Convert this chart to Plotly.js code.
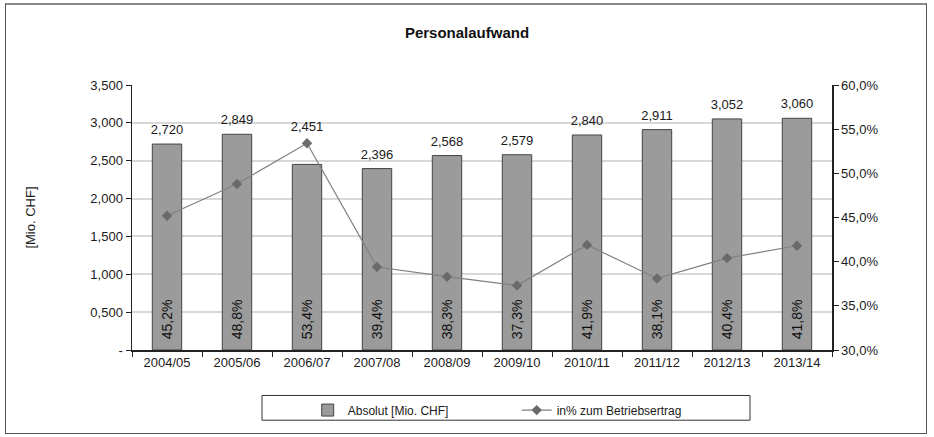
<!DOCTYPE html>
<html>
<head>
<meta charset="utf-8">
<script src="https://cdn.plot.ly/plotly-3.0.1.min.js"></script>
<style>
  html, body { margin: 0; padding: 0; background: #fff; }
  #wrap { position: relative; width: 934px; height: 437px; }
  #chart { width: 934px; height: 437px; }
  #frame { position: absolute; left: 5px; top: 3px; width: 920px; height: 428px;
           border: 1px solid #555; border-top: 2px solid #888; pointer-events: none; }
</style>
</head>
<body>
<div id="wrap">
  <div id="chart"></div>
  <div id="frame"></div>
</div>
<script>
// ---- data ----
const categories = ["2004/05","2005/06","2006/07","2007/08","2008/09","2009/10","2010/11","2011/12","2012/13","2013/14"];
const absolutValues = [2.720, 2.849, 2.451, 2.396, 2.568, 2.579, 2.840, 2.911, 3.052, 3.060];
const percentValues = [0.452, 0.488, 0.534, 0.394, 0.383, 0.373, 0.419, 0.381, 0.404, 0.418];
const leftTickVals = [0, 0.5, 1.0, 1.5, 2.0, 2.5, 3.0, 3.5];
const leftTickText = ["-", "0,500", "1,000", "1,500", "2,000", "2,500", "3,000", "3,500"];
const rightTickVals = [0.30, 0.35, 0.40, 0.45, 0.50, 0.55, 0.60];
const rightTickText = ["30,0%", "35,0%", "40,0%", "45,0%", "50,0%", "55,0%", "60,0%"];

// styling: invisible spacer size per label (2006/07 label lifted clear of the line marker)
const labelSpacer = [9, 9, 47, 9, 9, 9, 9, 9, 9, 9];

const fmt3 = v => v.toFixed(3).replace('.', ',');
const fmtPct = v => (v * 100).toFixed(1).replace('.', ',') + '%';

const FONT = "Liberation Sans, Arial, sans-serif";

const traces = [
  {
    type: 'bar', name: 'Absolut [Mio. CHF]',
    x: categories, y: absolutValues,
    marker: { color: '#9b9b9b', line: { color: '#444', width: 1 } },
    text: percentValues.map(v => '\u00a0\u00a0' + fmtPct(v)),
    textposition: 'inside', insidetextanchor: 'start', textangle: -90,
    textfont: { family: FONT, size: 14, color: '#111' },
    constraintext: 'none',
    hoverinfo: 'skip'
  },
  {
    type: 'scatter', mode: 'markers+text', name: 'labels', showlegend: false,
    x: categories, y: absolutValues,
    marker: { size: labelSpacer, color: 'rgba(0,0,0,0)', line: { width: 0, color: 'rgba(0,0,0,0)' } },
    text: absolutValues.map(fmt3),
    textposition: 'top center',
    textfont: { family: FONT, size: 13, color: '#1a1a1a' },
    cliponaxis: false,
    hoverinfo: 'skip'
  },
  {
    type: 'scatter', mode: 'lines+markers', name: 'in% zum Betriebsertrag',
    x: categories, y: percentValues, yaxis: 'y2',
    line: { color: '#808080', width: 1.2 },
    marker: { symbol: 'diamond', size: 8, color: '#6a6a6a' },
    hoverinfo: 'skip'
  }
];

const layout = {
  width: 934, height: 437,
  margin: { l: 132, r: 102, t: 85, b: 84 },
  paper_bgcolor: '#fff', plot_bgcolor: '#fff',
  font: { family: FONT, size: 13, color: '#1a1a1a' },
  title: { text: 'Personalaufwand', font: { family: FONT, size: 15, color: '#111', weight: 'bold' },
           x: 0.5, xanchor: 'center', y: 0.925, yanchor: 'middle' },
  barmode: 'overlay', bargap: 0.58,
  showlegend: true,
  legend: { orientation: 'h', x: 0.251, xanchor: 'left', y: -0.172, yanchor: 'top',
            font: { family: FONT, size: 12, color: '#1a1a1a' }, entrywidth: 164,
            bgcolor: 'rgba(0,0,0,0)' },
  xaxis: {
    type: 'category', range: [-0.5, 9.5], autorange: false,
    showgrid: false, zeroline: false,
    showline: true, linecolor: '#222', linewidth: 1.5,
    ticks: 'outside', tickson: 'boundaries', ticklen: 5, tickcolor: '#222',
    tickfont: { family: FONT, size: 13, color: '#1a1a1a' }
  },
  yaxis: {
    range: [0, 3.5], tickvals: leftTickVals, ticktext: leftTickText,
    showgrid: true, gridcolor: '#d8d8d8', gridwidth: 2, zeroline: false,
    showline: true, linecolor: '#222', linewidth: 1.5,
    ticks: 'outside', ticklen: 5, tickcolor: '#222',
    tickfont: { family: FONT, size: 13, color: '#1a1a1a' },
    title: { text: '[Mio. CHF]', font: { family: FONT, size: 13, color: '#1a1a1a' }, standoff: 52 }
  },
  yaxis2: {
    overlaying: 'y', side: 'right', range: [0.30, 0.60],
    tickvals: rightTickVals, ticktext: rightTickText,
    showgrid: false, zeroline: false,
    showline: true, linecolor: '#222', linewidth: 1.5,
    ticks: 'outside', ticklen: 5, tickcolor: '#222',
    tickfont: { family: FONT, size: 13, color: '#1a1a1a' }
  },
  shapes: [
    { type: 'rect', xref: 'paper', yref: 'paper',
      x0: (262 - 132) / 700, x1: (750 - 132) / 700,
      y0: (353 - 399) / 268, y1: (353 - 424) / 268,
      line: { color: '#333', width: 1 }, fillcolor: 'rgba(0,0,0,0)', layer: 'below' }
  ]
};

Plotly.newPlot('chart', traces, layout, { staticPlot: true, displayModeBar: false });
</script>
</body>
</html>
